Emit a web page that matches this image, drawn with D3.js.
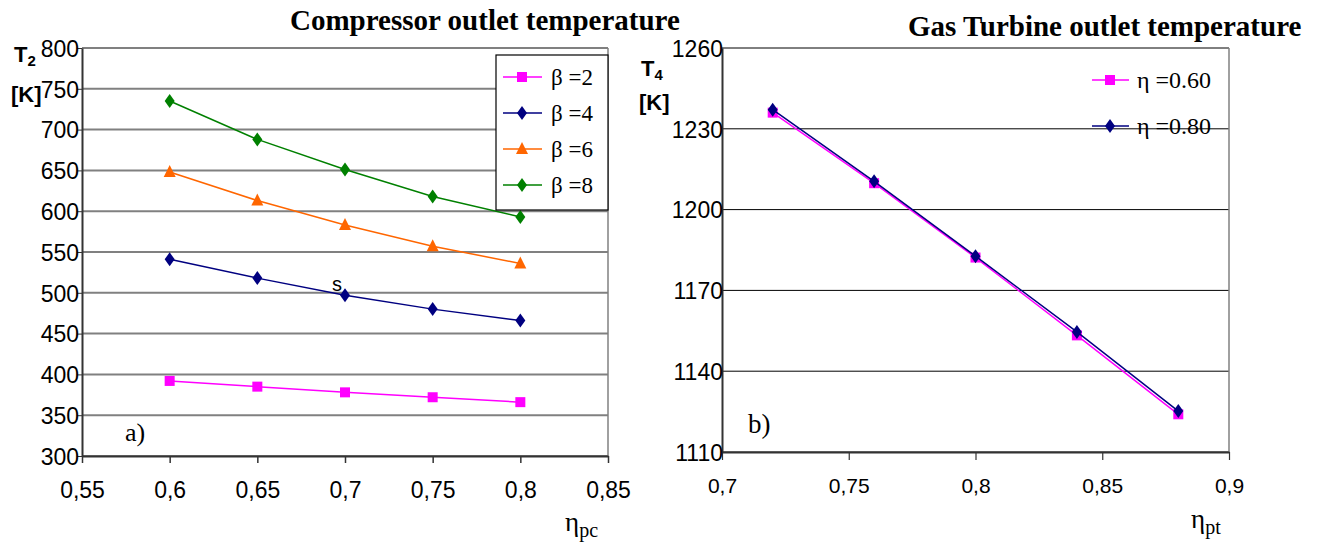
<!DOCTYPE html>
<html><head><meta charset="utf-8">
<script src="https://cdn.jsdelivr.net/npm/d3@7"></script>
<style>body{margin:0;background:#fff}svg{display:block}</style>
</head><body>
<svg id="c" width="1325" height="542"></svg>
<script>
// ---- data: chart a) compressor outlet temperature ----
const etaPc = [0.6, 0.65, 0.7, 0.75, 0.8];
const beta2 = [392, 385, 378, 372, 366];
const beta4 = [541, 518, 497, 480, 466];
const beta6 = [648, 613, 583, 557, 536];
const beta8 = [735, 688, 651, 618, 593];
const seriesA = ["β =2", "β =4", "β =6", "β =8"];
const ticksAx = [0.55, 0.6, 0.65, 0.7, 0.75, 0.8, 0.85];
const ticksAy = [300, 350, 400, 450, 500, 550, 600, 650, 700, 750, 800];
// ---- data: chart b) gas turbine outlet temperature ----
const etaPt = [0.72, 0.76, 0.8, 0.84, 0.88];
const eta060 = [1236, 1209.8, 1182.2, 1153.3, 1124];
const eta080 = [1237.1, 1210.5, 1182.7, 1154.6, 1125.2];
const seriesB = ["η =0.60", "η =0.80"];
const ticksBx = [0.7, 0.75, 0.8, 0.85, 0.9];
const ticksBy = [1110, 1140, 1170, 1200, 1230, 1260];

const svg = d3.select("#c");
const fmt = d => String(d).replace(".", ",");
const SANS = "Liberation Sans, Arial", SERIF = "Liberation Serif, Times New Roman";

function marker(g, type, color, x, y) {
  if (type === "square") g.append("rect").attr("x", x-5).attr("y", y-5).attr("width", 10).attr("height", 10).attr("fill", color);
  else if (type === "diamond") g.append("path").attr("d", `M${x},${y-7}L${x+5},${y}L${x},${y+7}L${x-5},${y}Z`).attr("fill", color);
  else if (type === "triangle") g.append("path").attr("d", `M${x},${y-7}L${x+6},${y+5}L${x-6},${y+5}Z`).attr("fill", color);
}

// ================= Chart A =================
{
  const L = 82, R = 608, T = 48, B = 456;
  const x = d3.scaleLinear().domain([0.55, 0.85]).range([L, R]);
  const y = d3.scaleLinear().domain([300, 800]).range([B, T]);
  const g = svg.append("g");
  g.selectAll("line.grid").data(ticksAy).join("line")
    .attr("x1", L).attr("x2", R).attr("y1", d => y(d)).attr("y2", d => y(d))
    .attr("stroke", "#808080").attr("stroke-width", 2);
  g.append("line").attr("x1", R).attr("x2", R).attr("y1", T).attr("y2", B).attr("stroke", "#808080").attr("stroke-width", 1.5);
  const ax = g.append("g").attr("transform", `translate(0,${B})`)
    .call(d3.axisBottom(x).tickValues(ticksAx).tickFormat(fmt).tickSizeInner(7).tickSizeOuter(0).tickPadding(19));
  ax.select(".domain").attr("stroke", "#333").attr("stroke-width", 2);
  ax.selectAll(".tick line").attr("stroke", "#333").attr("stroke-width", 1.5);
  ax.selectAll("text").attr("font-family", SANS).attr("font-size", 23).attr("fill", "#000");
  const ay = g.append("g").attr("transform", `translate(${L},0)`)
    .call(d3.axisLeft(y).tickValues(ticksAy).tickSizeInner(5).tickSizeOuter(0).tickPadding(0));
  ay.select(".domain").attr("stroke", "#333").attr("stroke-width", 2);
  ay.selectAll(".tick line").attr("stroke", "#333");
  ay.selectAll("text").attr("font-family", SANS).attr("font-size", 23).attr("fill", "#000").attr("dy", "0.36em").attr("x", -3);

  const all = [beta2, beta4, beta6, beta8];
  const colors = ["#FF00FF", "#000080", "#FF6600", "#008000"];
  const mk = ["square", "diamond", "triangle", "diamond"];
  const line = d3.line().x((d, i) => x(etaPc[i])).y(d => y(d));
  all.forEach((s, k) => {
    g.append("path").attr("d", line(s)).attr("fill", "none").attr("stroke", colors[k]).attr("stroke-width", 1.5);
    s.forEach((v, i) => marker(g, mk[k], colors[k], x(etaPc[i]), y(v)));
  });
  // legend
  const lg = g.append("g");
  lg.append("rect").attr("x", 496).attr("y", 55).attr("width", 112).attr("height", 155).attr("fill", "#fff").attr("stroke", "#000").attr("stroke-width", 1.2);
  seriesA.forEach((name, k) => {
    const yy = 77 + k * 36;
    lg.append("line").attr("x1", 503).attr("x2", 542).attr("y1", yy).attr("y2", yy).attr("stroke", colors[k]).attr("stroke-width", 1.5);
    marker(lg, mk[k], colors[k], 522, yy);
    lg.append("text").attr("x", 551).attr("y", yy + 8).attr("font-family", SERIF).attr("font-size", 23).text(name);
  });
  g.append("text").attr("x", 290).attr("y", 30).attr("font-family", SERIF).attr("font-weight", "bold").attr("font-size", 29).text("Compressor outlet temperature");
  const t2 = g.append("text").attr("x", 14).attr("y", 62).attr("font-family", SANS).attr("font-weight", "bold").attr("font-size", 22);
  t2.append("tspan").text("T");
  t2.append("tspan").attr("dy", 4).attr("font-size", 15).text("2");
  g.append("text").attr("x", 11).attr("y", 102).attr("font-family", SANS).attr("font-weight", "bold").attr("font-size", 22).text("[K]");
  g.append("text").attr("x", 125).attr("y", 441).attr("font-family", SERIF).attr("font-size", 26).text("a)");
  g.append("text").attr("x", 332).attr("y", 291).attr("font-family", SANS).attr("font-size", 20).text("s");
  const xa = g.append("text").attr("x", 565).attr("y", 531).attr("font-family", SERIF).attr("font-size", 27);
  xa.append("tspan").text("η");
  xa.append("tspan").attr("dy", 6).attr("font-size", 20).text("pc");
}

// ================= Chart B =================
{
  const L = 722, R = 1229, T = 48, B = 452;
  const x = d3.scaleLinear().domain([0.7, 0.9]).range([L, R]);
  const y = d3.scaleLinear().domain([1110, 1260]).range([B, T]);
  const g = svg.append("g");
  g.selectAll("line.grid").data(ticksBy).join("line")
    .attr("x1", L).attr("x2", R).attr("y1", d => y(d)).attr("y2", d => y(d))
    .attr("stroke", "#000").attr("stroke-width", 1);
  g.append("line").attr("x1", R).attr("x2", R).attr("y1", T).attr("y2", B).attr("stroke", "#808080").attr("stroke-width", 1.5);
  const ax = g.append("g").attr("transform", `translate(0,${B})`)
    .call(d3.axisBottom(x).tickValues(ticksBx).tickFormat(fmt).tickSizeInner(8).tickSizeOuter(0).tickPadding(18));
  ax.select(".domain").attr("stroke", "#333").attr("stroke-width", 2);
  ax.selectAll(".tick line").attr("stroke", "#333").attr("stroke-width", 1.2);
  ax.selectAll("text").attr("font-family", SANS).attr("font-size", 21).attr("fill", "#000");
  const ay = g.append("g").attr("transform", `translate(${L},0)`)
    .call(d3.axisLeft(y).tickValues(ticksBy).tickFormat(d3.format("d")).tickSizeInner(0).tickSizeOuter(0).tickPadding(0));
  ay.select(".domain").attr("stroke", "#333").attr("stroke-width", 2);
  ay.selectAll("text").attr("font-family", SANS).attr("font-size", 23).attr("fill", "#000").attr("dy", "0.36em").attr("x", 1);

  const all = [eta060, eta080];
  const colors = ["#FF00FF", "#000080"];
  const mk = ["square", "diamond"];
  const line = d3.line().x((d, i) => x(etaPt[i])).y(d => y(d));
  all.forEach((s, k) => {
    g.append("path").attr("d", line(s)).attr("fill", "none").attr("stroke", colors[k]).attr("stroke-width", 1.5);
    s.forEach((v, i) => marker(g, mk[k], colors[k], x(etaPt[i]), y(v)));
  });
  seriesB.forEach((name, k) => {
    const yy = 80 + k * 46;
    g.append("rect").attr("x", 1087).attr("y", yy - 2).attr("width", 5).attr("height", 4).attr("fill", "#fff");
    g.append("line").attr("x1", 1092).attr("x2", 1129).attr("y1", yy).attr("y2", yy).attr("stroke", colors[k]).attr("stroke-width", 1.5);
    marker(g, mk[k], colors[k], 1110, yy);
    g.append("text").attr("x", 1137).attr("y", yy + 8).attr("font-family", SERIF).attr("font-size", 24).text(name);
  });
  g.append("text").attr("x", 908).attr("y", 36).attr("font-family", SERIF).attr("font-weight", "bold").attr("font-size", 29).text("Gas Turbine outlet temperature");
  const t4 = g.append("text").attr("x", 641).attr("y", 76).attr("font-family", SANS).attr("font-weight", "bold").attr("font-size", 22);
  t4.append("tspan").text("T");
  t4.append("tspan").attr("dy", 4).attr("font-size", 15).text("4");
  g.append("text").attr("x", 639).attr("y", 110).attr("font-family", SANS).attr("font-weight", "bold").attr("font-size", 22).text("[K]");
  g.append("text").attr("x", 748).attr("y", 433).attr("font-family", SERIF).attr("font-size", 27).text("b)");
  const xb = g.append("text").attr("x", 1191).attr("y", 528).attr("font-family", SERIF).attr("font-size", 27);
  xb.append("tspan").text("η");
  xb.append("tspan").attr("dy", 6).attr("font-size", 20).text("pt");
}
</script>
</body></html>
